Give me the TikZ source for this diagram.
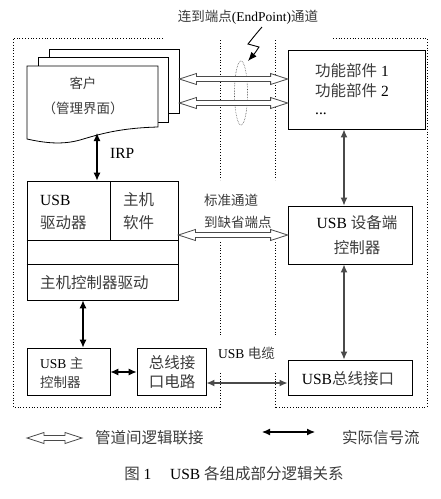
\documentclass[tikz,border=0pt]{standalone}
\usepackage{fontspec}
\setmainfont{Liberation Serif}
\newfontfamily\cjk{Noto Sans CJK SC}
\usetikzlibrary{arrows.meta,calc,shapes.geometric}
\definecolor{cjkc}{HTML}{3C3C3C}
\definecolor{sgray}{HTML}{4A4A4A}
\newcommand\zh[1]{{\cjk\color{cjkc}#1}}
\newcommand\hollowarr[2]{\draw[hollowstyle] let \p1=(#1), \p2=(#2) in
  (\x1,\y1) -- (\x1+17pt,\y1+5.5pt) -- (\x1+17pt,\y1+2.5pt) -- (\x2-17pt,\y2+2.5pt)
  -- (\x2-17pt,\y2+5.5pt) -- (\x2,\y2) -- (\x2-17pt,\y2-5.5pt) -- (\x2-17pt,\y2-2.5pt)
  -- (\x1+17pt,\y1-2.5pt) -- (\x1+17pt,\y1-5.5pt) -- cycle;}
\tikzset{
  box/.style={draw=black, line width=0.8pt, fill=white, inner sep=0pt},
  page/.style={draw=black, line width=0.8pt, fill=white},
  txt/.style={inner sep=0pt, font=\fontsize{15.5}{18}\selectfont},
  stxt/.style={inner sep=0pt, font=\fontsize{13.5}{16}\selectfont},
  bound/.style={dotted, line width=0.8pt},
  hollowstyle/.style={draw=sgray, line width=0.8pt, fill=white},
  sig/.style={{Latex[length=8pt,width=7pt]}-{Latex[length=8pt,width=7pt]}, line width=1.1pt, black},
  gsig/.style={sig, line width=1.4pt, draw=sgray, color=sgray},
}
\begin{document}
\begin{tikzpicture}[x=1pt,y=-1pt]
\useasboundingbox[fill=white] (0,0) rectangle (441,499);

% dotted boundaries
\draw[bound] (163,38) -- (13,38) -- (13,407) -- (220,407);
\draw[bound] (220,40) -- (220,180);
\draw[bound] (220,242) -- (220,335);
\draw[bound] (220,373) -- (220,407);
\draw[bound] (333,38) -- (427,38) -- (427,407) -- (275,407);
\draw[bound] (275,40) -- (275,180);
\draw[bound] (275,242) -- (275,335);
\draw[bound] (275,373) -- (275,407);

% title and lightning
\node[stxt] (title) at (248,17) {\zh{连到端点}(EndPoint)\zh{通道}};
\coordinate (lz0) at (262,27);
\coordinate (lz1) at (248,44);
\coordinate (lz2) at (259,47);
\coordinate (lztip) at (248,61);
\draw[line width=0.9pt, -{Latex[length=9pt,width=7pt]}] (lz0) .. controls (256,34) .. (248,44) -- (259,47) .. controls (255,53) .. (lztip);
\node[draw=sgray, densely dotted, line width=0.6pt, ellipse, minimum width=13pt, minimum height=64pt, inner sep=0pt] (ell) at (241,93) {};

% client pages
\node[page, minimum width=130pt, minimum height=64pt, inner sep=0pt] (p3) at (114,81) {};
\node[page, minimum width=130pt, minimum height=65pt, inner sep=0pt] (p2) at (103,89.5) {};
\draw[page] (27,66) -- (158,66) -- (158,127) .. controls (120,128) and (100,134) .. (80,140)
  .. controls (62,145) and (45,143) .. (27,139) -- cycle;
\coordinate (p1bot) at (97,133);
\node[stxt] (client1) at (83,83) {\zh{客户}};
\node[stxt] (client2) at (83,108) {\zh{（管理界面）}};

% function box
\node[box, minimum width=137pt, minimum height=79pt] (func) at (356.5,89.5) {};
\node[txt, anchor=west] (f1) at (315,71) {\zh{功能部件} 1};
\node[txt, anchor=west] (f2) at (315,91) {\zh{功能部件} 2};
\node[txt, anchor=west] (f3) at (315,114) {...};

% hollow arrows top
\coordinate (h1a) at (p3.east |- 0,79);
\coordinate (h1b) at (func.west |- 0,79);
\coordinate (h2a) at (p3.east |- 0,103);
\coordinate (h2b) at (func.west |- 0,103);
\hollowarr{h1a}{h1b}
\hollowarr{h2a}{h2b}

% host software box
\node[box, minimum width=151pt, minimum height=119pt] (host) at (102.5,240.5) {};
\draw[line width=0.8pt] (110,181) -- (110,240);
\draw[line width=0.8pt] (host.west |- 0,240) -- (host.east |- 0,240);
\draw[line width=0.8pt] (host.west |- 0,264) -- (host.east |- 0,264);
\node[txt, anchor=west] (usbd1) at (40,200) {USB};
\node[txt, anchor=west] (usbd2) at (40,223) {\zh{驱动器}};
\node[txt, anchor=west] (hs1) at (123,200) {\zh{主机}};
\node[txt, anchor=west] (hs2) at (123,223) {\zh{软件}};
\node[txt, anchor=west] (hcd) at (40,283) {\zh{主机控制器驱动}};

% IRP
\coordinate (irpb) at (host.north -| p1bot);
\draw[sig] (p1bot) -- (irpb);
\node[txt, anchor=west] (irp) at (110,153) {IRP};

% device controller
\node[box, minimum width=124pt, minimum height=58pt] (dev) at (350,235) {};
\node[txt] (dev1) at (357,223) {USB \zh{设备端}};
\node[txt] (dev2) at (357,248) {\zh{控制器}};
\node[stxt, anchor=west] (std1) at (204,200) {\zh{标准通道}};
\node[stxt, anchor=west] (std2) at (204,222) {\zh{到缺省端点}};
\coordinate (hstart) at (host.east |- dev.west);
\hollowarr{hstart}{dev.west}

% func -> dev
\coordinate (vx) at (344,0);
\draw[gsig] (func.south -| vx) -- (dev.north -| vx);

% bottom row
\node[box, minimum width=83pt, minimum height=47pt] (hc) at (68.5,371.5) {};
\node[stxt, anchor=west] (hc1) at (40,363) {USB \zh{主}};
\node[stxt, anchor=west] (hc2) at (40,382) {\zh{控制器}};
\node[box, minimum width=69pt, minimum height=47pt] (bic) at (171.5,371.5) {};
\node[txt] (bic1) at (172,363) {\zh{总线接}};
\node[txt] (bic2) at (172,382) {\zh{口电路}};
\node[box, minimum width=124pt, minimum height=35pt] (busif) at (350,377.5) {};
\node[txt] (busif1) at (348,379) {USB\zh{总线接口}};
\node[stxt, anchor=west] (cable) at (218,353) {USB \zh{电缆}};

\coordinate (hx) at (83,0);
\draw[sig] (host.south -| hx) -- (hc.north -| hx);
\draw[sig] (hc.east |- 0,372) -- (bic.west |- 0,372);
\draw[gsig] (dev.south -| vx) -- (busif.north -| vx);
\draw[gsig] (bic.east |- 0,383) -- (busif.west |- 0,383);

% legend
\coordinate (lg1a) at (27,438);
\coordinate (lg1b) at (82,438);
\hollowarr{lg1a}{lg1b}
\node[txt, anchor=west] (lgt1) at (95,438) {\zh{管道间逻辑联接}};
\coordinate (lg2a) at (262,432);
\coordinate (lg2b) at (315,432);
\draw[sig] (lg2a) -- (lg2b);
\node[txt, anchor=west] (lgt2) at (342,438) {\zh{实际信号流}};

% caption
\node[txt] (cap) at (234,474) {\zh{图} 1\hspace{1.2em}USB \zh{各组成部分逻辑关系}};
\end{tikzpicture}
\end{document}
